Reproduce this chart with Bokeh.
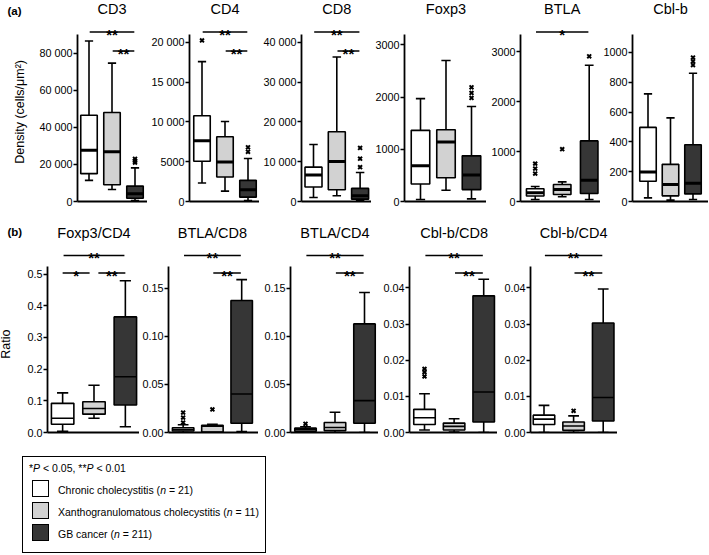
import math
from bokeh.plotting import figure
from bokeh.models import ColumnDataSource, FixedTicker, CustomJSTickFormatter, Range1d, Div
from bokeh.layouts import row, column
from bokeh.core.properties import value
from bokeh.embed import file_html
from bokeh.resources import INLINE

# ---------------- data ----------------
groups = ["Chronic cholecystitis", "Xanthogranulomatous cholecystitis", "GB cancer"]
group_n = [21, 11, 211]

# box stats per group: [low whisker, Q1, median, Q3, high whisker]
CD3_box = [[11400, 15000, 27600, 46500, 86500], [6500, 9050, 26800, 48000, 74600], [540, 1790, 4200, 8300, 18100]]
CD3_out = [[], [], [21000, 22000, 23000]]
CD4_box = [[2320, 5070, 7650, 10780, 17590], [1310, 3080, 4980, 8150, 10060], [130, 550, 1480, 2660, 5410]]
CD4_out = [[20250], [], [6250, 6810]]
CD8_box = [[1020, 3640, 6690, 8640, 14320], [1440, 2970, 10080, 17540, 36360], [170, 590, 1440, 3300, 7290]]
CD8_out = [[], [], [8640, 10760, 13470]]
FOXP3_box = [[38, 336, 685, 1363, 1972], [216, 456, 1141, 1376, 2701], [51, 228, 507, 875, 1820]]
FOXP3_out = [[], [], [1985, 2080, 2188]]
BTLA_box = [[40, 110, 175, 255, 300], [94, 140, 240, 340, 394], [40, 160, 428, 1216, 2732]]
BTLA_out = [[560, 660, 760], [1049], [2912]]
CBLB_box = [[24, 136, 198, 497, 722], [9, 38, 114, 249, 561], [13, 51, 122, 381, 860]]
CBLB_out = [[], [], [915, 940, 965]]

FOXP3_CD4_box = [[0.004, 0.026, 0.045, 0.092, 0.125], [0.045, 0.058, 0.076, 0.097, 0.149], [0.018, 0.087, 0.176, 0.365, 0.479]]
FOXP3_CD4_out = [[], [], []]
BTLA_CD8_box = [[0.0, 0.0015, 0.003, 0.005, 0.008], [0.0, 0.0005, 0.0065, 0.0075, 0.0085], [0.001, 0.0097, 0.040, 0.1373, 0.159]]
BTLA_CD8_out = [[0.0103, 0.0155, 0.0207], [0.024], []]
BTLA_CD4_box = [[0.0, 0.0012, 0.003, 0.0045, 0.006], [0.0, 0.002, 0.0052, 0.0104, 0.021], [0.0, 0.0097, 0.0332, 0.113, 0.1457]]
BTLA_CD4_out = [[0.009], [], []]
CBLB_CD8_box = [[0.0007, 0.0022, 0.0041, 0.0064, 0.0107], [0.0001, 0.0007, 0.0017, 0.0026, 0.0038], [0.0, 0.0029, 0.0112, 0.0378, 0.0424]]
CBLB_CD8_out = [[0.0155, 0.0167, 0.0176], [], []]
CBLB_CD4_box = [[0.0, 0.0022, 0.0037, 0.0048, 0.0075], [0.0, 0.0006, 0.0018, 0.0029, 0.0046], [0.0, 0.0032, 0.0097, 0.0303, 0.0397]]
CBLB_CD4_out = [[], [0.006], []]

# axis extents and ticks
CD3_ticks = [0, 20000, 40000, 60000, 80000]
CD4_ticks = [0, 5000, 10000, 15000, 20000]
CD8_ticks = [0, 10000, 20000, 30000, 40000]
FOXP3_ticks = [0, 1000, 2000, 3000]
BTLA_ticks = [0, 1000, 2000, 3000]
CBLB_ticks = [0, 200, 400, 600, 800, 1000]
FOXP3_CD4_ticks = [0.0, 0.1, 0.2, 0.3, 0.4, 0.5]
BTLA_CD8_ticks = [0.0, 0.05, 0.10, 0.15]
BTLA_CD4_ticks = [0.0, 0.05, 0.10, 0.15]
CBLB_CD8_ticks = [0.0, 0.01, 0.02, 0.03, 0.04]
CBLB_CD4_ticks = [0.0, 0.01, 0.02, 0.03, 0.04]
axis_max_a = [90000, 21000, 42000, 3200, 3350, 1120]
axis_max_b = [0.525, 0.173, 0.173, 0.046, 0.046]

# significance: (group i, group j, label, level)
SIG_PAIR = [(1, 3, "**", 0), (2, 3, "**", 1)]
BTLA_sig = [(1, 3, "*", 0)]
FOXP3_CD4_sig = [(1, 3, "**", 0), (1, 2, "*", 1), (2, 3, "**", 1)]

titles_a = ["CD3", "CD4", "CD8", "Foxp3", "BTLA", "Cbl-b"]
titles_b = ["Foxp3/CD4", "BTLA/CD8", "BTLA/CD4", "Cbl-b/CD8", "Cbl-b/CD4"]
ylabel_a = "Density (cells/\u03bcm\u00b2)"
ylabel_b = "Ratio"
panel_tags = ["(a)", "(b)"]

# ---------------- style / layout ----------------
FILLS = ["#ffffff", "#d2d2d2", "#363636"]
FONT = "Liberation Sans"

# (fig_left, axis_x, frame_right, first box centre, px per group, box px)
geom_a = [(30, 77, 147, 88.5, 23.0, 16.5),
          (147, 189, 259, 201.5, 23.0, 16.5),
          (259, 301, 371, 313.0, 23.3, 17.0),
          (371, 404, 486, 420.0, 25.5, 18.5),
          (486, 520, 600, 534.7, 27.0, 17.5),
          (600, 632, 708, 647.5, 22.5, 16.5)]
geom_b = [(24, 46, 139, 61.3, 31.7, 22.7),
          (139, 167, 258, 181.8, 29.6, 21.7),
          (258, 290, 378, 305.0, 29.5, 21.5),
          (378, 409, 497, 424.0, 29.6, 21.5),
          (497, 530, 617, 543.5, 29.6, 21.5)]
vrow_a = dict(top=0, base=201, atop=34, h=212, title=8, sig=[31.5, 50.5], med=3.0,
              tag=(7, 10.8), ylab=(19, 117.5))
vrow_b = dict(top=212, base=432, atop=265.7, h=233, title=232, sig=[255.0, 272.5], med=1.6,
              tag=(7, 233 - 212), ylab=(5, 351.5 - 212))

FMT_A = """
const s = Math.round(tick).toString();
return s.length > 4 ? s.slice(0, -3) + ' ' + s.slice(-3) : s;
"""


def side_panel(width, v, tag, ylab):
    h = v["h"]
    p = figure(width=width, height=h, x_range=Range1d(0, width), y_range=Range1d(0, h),
               output_backend="svg", toolbar_location=None, tools="", title=None,
               min_border=0, min_border_left=0, min_border_right=0, min_border_top=0,
               min_border_bottom=0)
    p.axis.visible = False
    p.grid.visible = False
    p.outline_line_color = None
    tx, ty = v["tag"]
    p.text(x=[tx], y=[h - ty], text=[tag], text_font=value(FONT), text_font_size="11.5px",
           text_font_style="bold", text_align="left", text_baseline="middle", text_color="black")
    lx, ly = v["ylab"]
    p.text(x=[lx], y=[h - ly], text=[ylab], text_font=value(FONT), text_font_size="12.5px",
           angle=math.pi / 2, text_align="center", text_baseline="middle", text_color="black")
    return p


def make_panel(title, stats, outs, ymax, ticks, sigs, g, v, fmt_code, next_left=None):
    fig_left, axis_x, frame_right, c1, unit, box_px = g
    fig_w = (next_left if next_left is not None else frame_right) - fig_left
    ppu = (v["base"] - v["atop"]) / ymax
    y_end = (v["base"] - v["top"]) / ppu
    x0 = 1 - (c1 - axis_x) / unit
    x1 = x0 + (frame_right - axis_x) / unit
    frame_h = v["base"] - v["top"]
    p = figure(width=fig_w, height=v["h"], x_range=Range1d(x0, x1), y_range=Range1d(0, y_end),
               output_backend="svg", toolbar_location=None, tools="", title=None,
               min_border_left=axis_x - fig_left, min_border_right=fig_w - (frame_right - fig_left),
               min_border_top=0, min_border_bottom=v["h"] - frame_h)
    p.outline_line_color = None
    p.grid.visible = False
    p.background_fill_color = "white"
    p.border_fill_color = "white"

    bw = box_px / unit
    xs = [1, 2, 3]
    src = ColumnDataSource(dict(
        x=xs, low=[s[0] for s in stats], q1=[s[1] for s in stats], med=[s[2] for s in stats],
        q3=[s[3] for s in stats], high=[s[4] for s in stats], fill=FILLS,
        l=[x - bw / 2 for x in xs], r=[x + bw / 2 for x in xs],
        cl=[x - bw / 4 for x in xs], cr=[x + bw / 4 for x in xs]))
    p.segment(x0="x", y0="q3", x1="x", y1="high", source=src, line_color="black", line_width=1.6)
    p.segment(x0="x", y0="low", x1="x", y1="q1", source=src, line_color="black", line_width=1.6)
    p.segment(x0="cl", y0="high", x1="cr", y1="high", source=src, line_color="black", line_width=1.6)
    p.segment(x0="cl", y0="low", x1="cr", y1="low", source=src, line_color="black", line_width=1.6)
    p.vbar(x="x", width=bw, bottom="q1", top="q3", source=src, fill_color="fill",
           line_color="black", line_width=1.6)
    p.segment(x0="l", y0="med", x1="r", y1="med", source=src, line_color="black",
              line_width=v["med"], line_cap="butt")

    ox, oy = [], []
    for i, o in enumerate(outs):
        ox += [xs[i]] * len(o)
        oy += o
    if ox:
        p.scatter(x=ox, y=oy, marker="x", size=5.5, line_color="black", line_width=2)

    # title
    p.text(x=[2], y=[(v["base"] - v["title"]) / ppu], text=[title], text_font=value(FONT),
           text_font_size="14.5px", text_align="center", text_baseline="middle", text_color="black")

    # significance bars
    sx0, sx1, sy, tx, tl = [], [], [], [], []
    for (i, j, lab, lev) in sigs:
        ins = 0.14 if (j - i == 1 and len(sigs) > 2) else 0.03
        a, b = i + ins, j - ins
        if len(sigs) > 2 and j - i == 1 and i == 1:
            a = i
        if len(sigs) > 2 and j - i == 1 and j == 3:
            b = j
        yv = (v["base"] - v["sig"][lev]) / ppu
        sx0.append(a); sx1.append(b); sy.append(yv)
        tx.append((a + b) / 2); tl.append(lab)
    if sigs:
        p.segment(x0=sx0, y0=sy, x1=sx1, y1=sy, line_color="black", line_width=1.3)
        p.text(x=tx, y=sy, text=tl, text_font=value(FONT), text_font_size="15px",
               text_font_style="bold", text_align="center", text_baseline="alphabetic",
               y_offset=2, text_color="black")

    # axes
    yax = p.yaxis[0]
    yax.bounds = (0, ymax)
    yax.ticker = FixedTicker(ticks=ticks)
    yax.formatter = CustomJSTickFormatter(code=fmt_code)
    yax.minor_tick_line_color = None
    yax.major_tick_in = 0
    yax.major_tick_out = 4
    yax.major_tick_line_width = 1.5
    yax.axis_line_width = 1.8
    yax.major_label_standoff = 1
    yax.major_label_text_font = FONT
    yax.major_label_text_font_size = "10.8px"
    yax.major_label_text_color = "black"
    xax = p.xaxis[0]
    xax.ticker = FixedTicker(ticks=[])
    xax.major_label_text_font_size = "0px"
    xax.major_tick_line_color = None
    xax.minor_tick_line_color = None
    xax.axis_line_width = 1.8
    return p


# ---------------- row a ----------------
stats_a = [CD3_box, CD4_box, CD8_box, FOXP3_box, BTLA_box, CBLB_box]
outs_a = [CD3_out, CD4_out, CD8_out, FOXP3_out, BTLA_out, CBLB_out]
ticks_a = [CD3_ticks, CD4_ticks, CD8_ticks, FOXP3_ticks, BTLA_ticks, CBLB_ticks]
sigs_a = [SIG_PAIR, SIG_PAIR, SIG_PAIR, [], BTLA_sig, []]
figs_a = [side_panel(geom_a[0][0], vrow_a, panel_tags[0], ylabel_a)]
for k in range(6):
    nl = geom_a[k + 1][0] if k < 5 else None
    figs_a.append(make_panel(titles_a[k], stats_a[k], outs_a[k], axis_max_a[k], ticks_a[k],
                             sigs_a[k], geom_a[k], vrow_a, FMT_A, nl))

# ---------------- row b ----------------
stats_b = [FOXP3_CD4_box, BTLA_CD8_box, BTLA_CD4_box, CBLB_CD8_box, CBLB_CD4_box]
outs_b = [FOXP3_CD4_out, BTLA_CD8_out, BTLA_CD4_out, CBLB_CD8_out, CBLB_CD4_out]
ticks_b = [FOXP3_CD4_ticks, BTLA_CD8_ticks, BTLA_CD4_ticks, CBLB_CD8_ticks, CBLB_CD4_ticks]
sigs_b = [FOXP3_CD4_sig, SIG_PAIR, SIG_PAIR, SIG_PAIR, SIG_PAIR]
dec_b = [1, 2, 2, 2, 2]
figs_b = [side_panel(geom_b[0][0], vrow_b, panel_tags[1], ylabel_b)]
for k in range(5):
    nl = geom_b[k + 1][0] if k < 4 else None
    figs_b.append(make_panel(titles_b[k], stats_b[k], outs_b[k], axis_max_b[k], ticks_b[k],
                             sigs_b[k], geom_b[k], vrow_b, "return tick.toFixed(%d);" % dec_b[k], nl))

# ---------------- legend ----------------
note_html = "*<i>P</i> &lt; 0.05, **<i>P</i> &lt; 0.01"
items = ""
for i, (g, n) in enumerate(zip(groups, group_n)):
    top = 23 + 22 * i
    items += (f'<div style="position:absolute;left:9px;top:{top}px;width:17px;height:17px;'
              f'border:1.5px solid #000;background:{FILLS[i]};"></div>'
              f'<div style="position:absolute;left:35px;top:{top + 4}px;white-space:nowrap;">'
              f'{g} (<i>n</i> = {n})</div>')
legend_html = (f'<div style="position:relative;left:22px;top:11px;width:244px;height:97px;'
               f'border:1.4px solid #000;font-family:\'Liberation Sans\',Arial,sans-serif;'
               f'font-size:10.5px;line-height:12px;color:#000;box-sizing:border-box;">'
               f'<div style="position:absolute;left:6px;top:5px;white-space:nowrap;">{note_html}</div>'
               f'{items}</div>')
legend = Div(text=legend_html, width=300, height=108, margin=(0, 0, 0, 0))

layout = column(row(*figs_a), row(*figs_b), legend)

open("out.html", "w").write(file_html(layout, INLINE))
